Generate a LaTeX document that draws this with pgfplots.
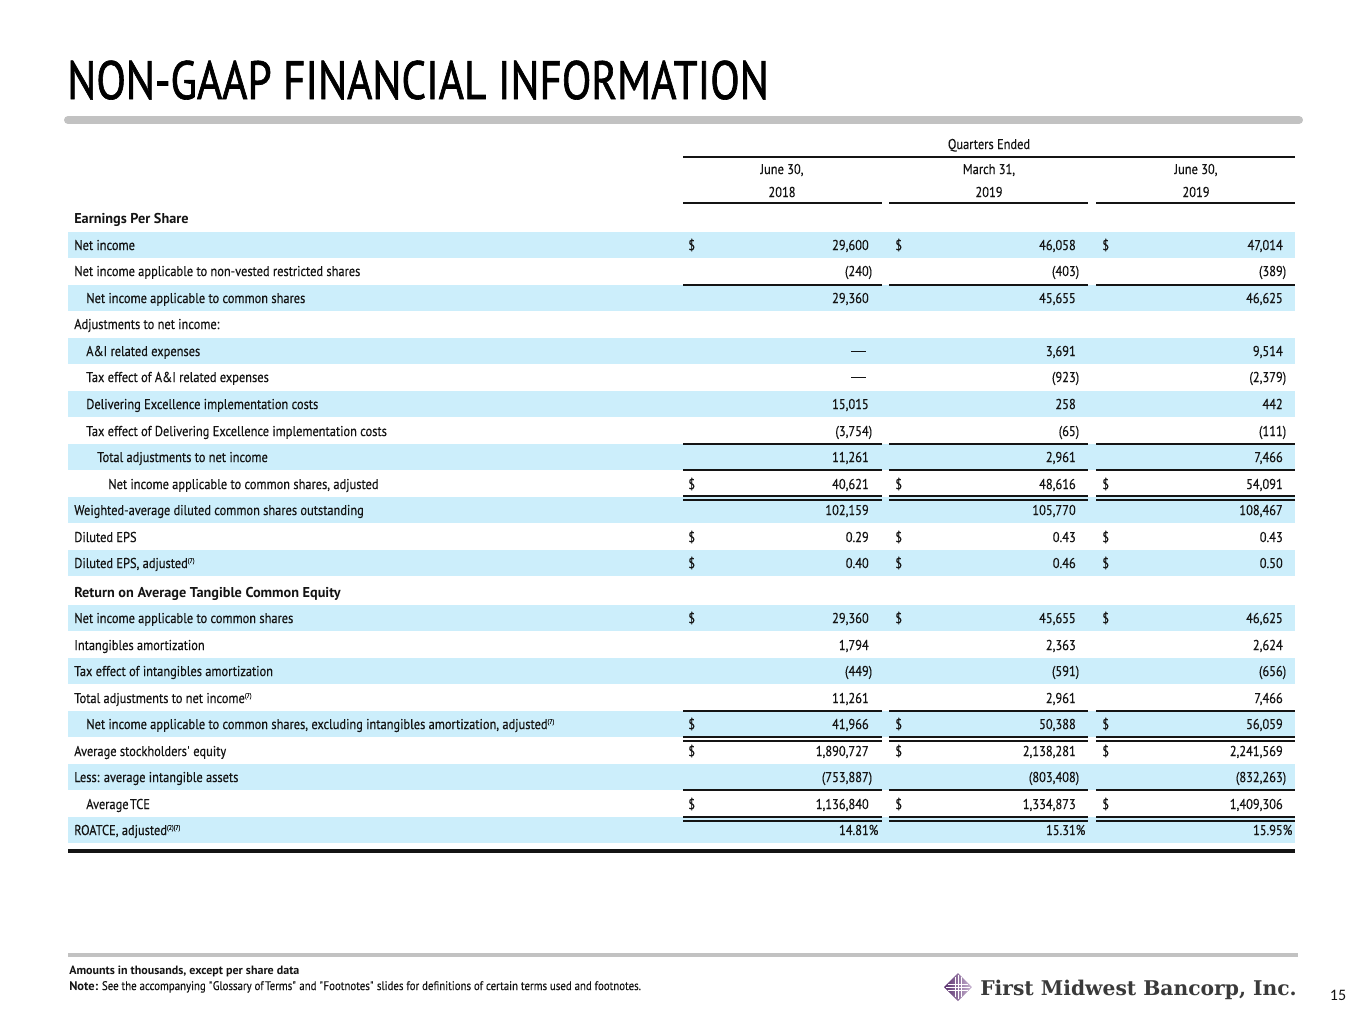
\documentclass[border=0pt]{standalone}
\usepackage{fontspec}
\setmainfont{PT Sans}[FakeStretch=0.87, FakeBold=0.3]
\newfontfamily\boldfam{PT Sans}[FakeStretch=1.0]
\newfontfamily\titlefont{PT Sans}[FakeStretch=0.80, FakeBold=1.2]
\newfontfamily\logofont{DejaVu Serif}
\newfontfamily\pgfont{Carlito}
\usepackage{pgfplots}
\pgfplotsset{compat=1.18}
\definecolor{rowblue}{HTML}{CCEEFB}
\definecolor{barg}{HTML}{C2C2C2}
\definecolor{ink}{HTML}{141414}
\definecolor{logoink}{HTML}{3A3A3A}
\definecolor{purp}{HTML}{6E3A87}
\newcommand\body{\fontsize{10.7pt}{12pt}\selectfont}
\newcommand\bft[1]{{\boldfam\bfseries #1}}
\newcommand\sups[1]{\raisebox{3.8pt}{\fontsize{5.2pt}{6pt}\selectfont #1}}
\newcommand\rp{\rlap{)}}
\newcommand\rowlab[3]{\node[anchor=base west,inner sep=0pt,font=\body,text=ink] at (axis cs:#1,#2) {#3};}
\newcommand\rowval[4]{%
  \node[anchor=base east,inner sep=0pt,font=\body,text=ink] at (axis cs:869,#1) {#2};
  \node[anchor=base east,inner sep=0pt,font=\body,text=ink] at (axis cs:1076,#1) {#3};
  \node[anchor=base east,inner sep=0pt,font=\body,text=ink] at (axis cs:1283,#1) {#4};}
\newcommand\dol[1]{%
  \node[anchor=base west,inner sep=0pt,font=\body,text=ink] at (axis cs:688,#1) {\$};
  \node[anchor=base west,inner sep=0pt,font=\body,text=ink] at (axis cs:895,#1) {\$};
  \node[anchor=base west,inner sep=0pt,font=\body,text=ink] at (axis cs:1102,#1) {\$};}
\newcommand\shaderow[2]{\fill[rowblue] (axis cs:68,#1) rectangle (axis cs:1295,#2);}
\newcommand\segs[1]{%
  \draw[ink,line width=1.5pt] (axis cs:683,#1) -- (axis cs:882,#1);
  \draw[ink,line width=1.5pt] (axis cs:889,#1) -- (axis cs:1088,#1);
  \draw[ink,line width=1.5pt] (axis cs:1096,#1) -- (axis cs:1295,#1);}
\newcommand\emd[1]{\fill[ink] (axis cs:851,#1) rectangle (axis cs:866,{#1+1.3});}
\begin{document}
\begin{tikzpicture}
\begin{axis}[
  scale only axis, width=1023.75pt, height=768pt,
  xmin=0, xmax=1365, ymin=0, ymax=1024, y dir=reverse,
  hide axis, clip=false]
\fill[white] (axis cs:0,0) rectangle (axis cs:1365,1024);
% title
\node[anchor=base west,inner sep=0pt,font=\titlefont\fontsize{40.5pt}{44pt}\selectfont,text=black] at (axis cs:67,99) {NON-GAAP FINANCIAL INFORMATION};
\draw[barg,line width=6pt,line cap=round] (axis cs:68,120) -- (axis cs:1299,120);
% shading
\shaderow{232}{258}
\shaderow{285}{311}
\shaderow{338}{364}
\shaderow{391}{417}
\shaderow{444}{470}
\shaderow{497}{523}
\shaderow{550}{576}
\shaderow{605}{631}
\shaderow{658}{684}
\shaderow{711}{737}
\shaderow{764}{790}
\shaderow{817}{843}
% header
\node[anchor=base,inner sep=0pt,font=\body,text=ink] at (axis cs:989,149) {Quarters Ended};
\draw[ink,line width=1.5pt] (axis cs:683,157) -- (axis cs:1295,157);
\node[anchor=base,inner sep=0pt,font=\body,text=ink] at (axis cs:782,174) {June 30,};
\node[anchor=base,inner sep=0pt,font=\body,text=ink] at (axis cs:989,174) {March 31,};
\node[anchor=base,inner sep=0pt,font=\body,text=ink] at (axis cs:1196,174) {June 30,};
\node[anchor=base,inner sep=0pt,font=\body,text=ink] at (axis cs:782,197) {2018};
\node[anchor=base,inner sep=0pt,font=\body,text=ink] at (axis cs:989,197) {2019};
\node[anchor=base,inner sep=0pt,font=\body,text=ink] at (axis cs:1196,197) {2019};
\segs{203}
% rows
\rowlab{74}{223}{\bft{Earnings Per Share}}
\rowlab{74}{250}{Net income}\dol{250}\rowval{250}{29,600}{46,058}{47,014}
\rowlab{74}{276}{Net income applicable to non-vested restricted shares}\rowval{276}{(240\rp}{(403\rp}{(389\rp}
\segs{285}
\rowlab{86}{303}{Net income applicable to common shares}\rowval{303}{29,360}{45,655}{46,625}
\rowlab{74}{329}{Adjustments to net income:}
\rowlab{86}{356}{A\&I related expenses}\rowval{356}{}{3,691}{9,514}
\fill[ink] (axis cs:851,351) rectangle (axis cs:866,352.4);
\rowlab{86}{382}{Tax effect of A\&I related expenses}\rowval{382}{}{(923\rp}{(2,379\rp}
\fill[ink] (axis cs:851,377) rectangle (axis cs:866,378.4);
\rowlab{86}{409}{Delivering Excellence implementation costs}\rowval{409}{15,015}{258}{442}
\rowlab{86}{436}{Tax effect of Delivering Excellence implementation costs}\rowval{436}{(3,754\rp}{(65\rp}{(111\rp}
\segs{444}
\rowlab{97}{462}{Total adjustments to net income}\rowval{462}{11,261}{2,961}{7,466}
\segs{470}
\rowlab{108}{489}{Net income applicable to common shares, adjusted}\dol{489}\rowval{489}{40,621}{48,616}{54,091}
\segs{496}\segs{500}
\rowlab{74}{515}{Weighted-average diluted common shares outstanding}\rowval{515}{102,159}{105,770}{108,467}
\rowlab{74}{542}{Diluted EPS}\dol{542}\rowval{542}{0.29}{0.43}{0.43}
\rowlab{74}{568}{Diluted EPS, adjusted\sups{(7)}}\dol{568}\rowval{568}{0.40}{0.46}{0.50}
\rowlab{74}{597}{\bft{Return on Average Tangible Common Equity}}
\rowlab{74}{623}{Net income applicable to common shares}\dol{623}\rowval{623}{29,360}{45,655}{46,625}
\rowlab{74}{650}{Intangibles amortization}\rowval{650}{1,794}{2,363}{2,624}
\rowlab{74}{676}{Tax effect of intangibles amortization}\rowval{676}{(449\rp}{(591\rp}{(656\rp}
\rowlab{74}{703}{Total adjustments to net income\sups{(7)}}\rowval{703}{11,261}{2,961}{7,466}
\segs{711}
\rowlab{86}{729}{Net income applicable to common shares, excluding intangibles amortization, adjusted\sups{(7)}}\dol{729}\rowval{729}{41,966}{50,388}{56,059}
\segs{737}\segs{741}
\rowlab{74}{756}{Average stockholders\textquotesingle\ equity}\dol{756}\rowval{756}{1,890,727}{2,138,281}{2,241,569}
\rowlab{74}{782}{Less: average intangible assets}\rowval{782}{(753,887\rp}{(803,408\rp}{(832,263\rp}
\segs{790}
\rowlab{86}{809}{Average\hspace{1pt}TCE}\dol{809}\rowval{809}{1,136,840}{1,334,873}{1,409,306}
\segs{817}\segs{821}
\rowlab{74}{835}{ROATCE, adjusted\sups{(2)(7)}}\rowval{835}{14.81\rlap{\%}}{15.31\rlap{\%}}{15.95\rlap{\%}}
\draw[ink,line width=3pt] (axis cs:68,851) -- (axis cs:1295,851);
% footer
\draw[barg,line width=3pt] (axis cs:68,955) -- (axis cs:1298,955);
\node[anchor=base west,inner sep=0pt,font=\fontsize{9pt}{10pt}\selectfont,text=ink] at (axis cs:69,974) {\bft{Amounts in thousands, except per share data}};
\node[anchor=base west,inner sep=0pt,font=\fontsize{9.35pt}{10pt}\selectfont,text=ink] at (axis cs:69,990) {\bft{Note:} See the accompanying \textquotedbl Glossary of\hspace{1pt}Terms\textquotedbl\ and \textquotedbl Footnotes\textquotedbl\ slides for definitions of certain terms used and footnotes.};
% logo
\shade[left color=purp!80!black, right color=purp!35] (axis cs:944,987) -- (axis cs:958,973) -- (axis cs:972,987) -- (axis cs:958,1001) -- cycle;
\draw[white,line width=0.6pt] (axis cs:955,977) -- (axis cs:955,997);
\draw[white,line width=0.6pt] (axis cs:958,975) -- (axis cs:958,999);
\draw[white,line width=0.6pt] (axis cs:961,977) -- (axis cs:961,997);
\draw[white,line width=0.6pt] (axis cs:948,984) -- (axis cs:968,984);
\draw[white,line width=0.6pt] (axis cs:946,987) -- (axis cs:970,987);
\draw[white,line width=0.6pt] (axis cs:948,990) -- (axis cs:968,990);
\node[anchor=base west,inner sep=0pt,font=\logofont\bfseries\fontsize{15.2pt}{17pt}\selectfont,text=logoink] at (axis cs:980,995) {First Midwest Bancorp, Inc.};
\node[anchor=base,inner sep=0pt,font=\pgfont\fontsize{12pt}{14pt}\selectfont,text=ink] at (axis cs:1338,1000) {15};
\end{axis}
\end{tikzpicture}
\end{document}
